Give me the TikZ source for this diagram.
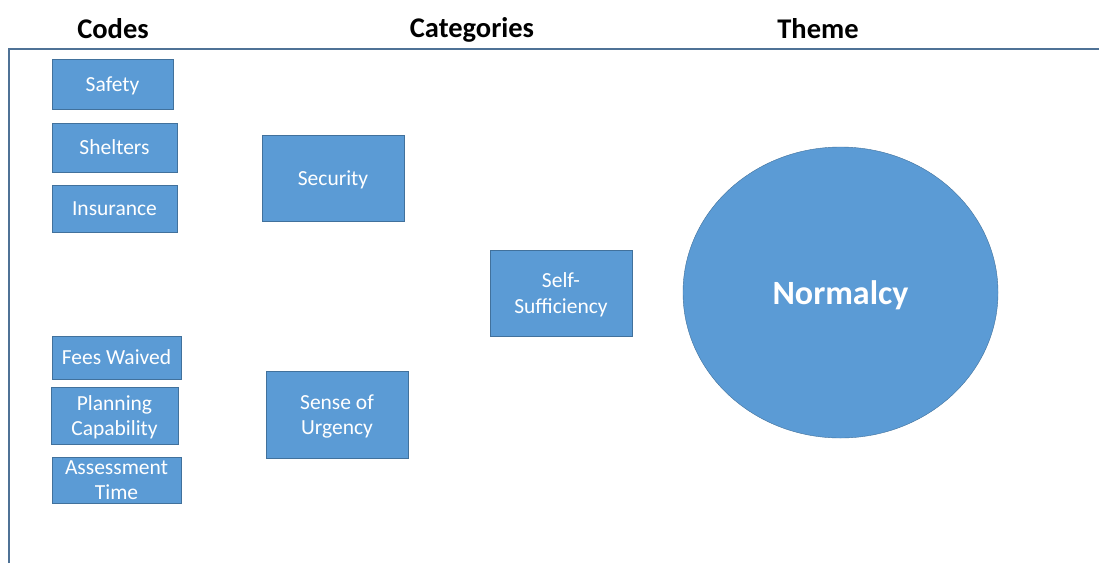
\documentclass[tikz,border=0pt]{standalone}
\usepackage{fontspec}
\setmainfont{Carlito}
\usepackage{xcolor}
\usepackage{tikz}
\usetikzlibrary{shapes.geometric}
\definecolor{OfficeBlue}{RGB}{91,155,213}
\definecolor{OfficeEdge}{RGB}{65,113,156}
\definecolor{FrameBlue}{RGB}{79,114,150}

\begin{document}
\begin{tikzpicture}[x=1pt, y=-1pt,
                % Kiểu hộp mã / hạng mục
                box/.style={draw=OfficeEdge, fill=OfficeBlue, text=white, inner sep=0pt, align=center,
                    text depth=0pt, font=\fontsize{21.5}{25.5}\selectfont},
                header/.style={font=\fontsize{28.5}{32}\selectfont\bfseries},
                theme/.style={ellipse, draw=OfficeEdge, fill=OfficeBlue, text=white, inner sep=0pt,
                    text depth=0pt, font=\fontsize{34}{40}\selectfont\bfseries}
            ]
                \useasboundingbox (0,0) rectangle (1099,563);
                % Frame
                \draw[FrameBlue, line width=1.5pt] (9,563) -- (9,49) -- (1099,49);
                % Headers
                \node[header] (hcodes) at (113,29) {Codes};
                \node[header] (hcats) at (472,29.5) {Categories};
                \node[header] (htheme) at (818,29) {Theme};
                % Codes
                \node[box, minimum width=121, minimum height=50] (safety) at (112.5,84) {Safety};
                \node[box, minimum width=125, minimum height=49] (shelters) at (114.5,147.5) {Shelters};
                \node[box, minimum width=125, minimum height=47] (insurance) at (114.5,208.5) {Insurance};
                \node[box, minimum width=129, minimum height=43] (fees) at (116.5,357.5) {Fees Waived};
                \node[box, minimum width=127, minimum height=57] (planning) at (114.5,415.5) {Planning\\Capability};
                \node[box, minimum width=129, minimum height=46] (assess) at (116.5,480) {Assessment\\Time};
                % Categories
                \node[box, minimum width=142, minimum height=86] (security) at (333,178) {Security};
                \node[box, minimum width=142, minimum height=87] (urgency) at (337,414.5) {Sense of\\Urgency};
                \node[box, minimum width=142, minimum height=86] (selfsuf) at (561,293) {Self-\\Sufficiency};
                % Theme
                \node[theme, minimum width=315, minimum height=291] (normalcy) at (840.5,292.5) {Normalcy};
\end{tikzpicture}
\end{document}
